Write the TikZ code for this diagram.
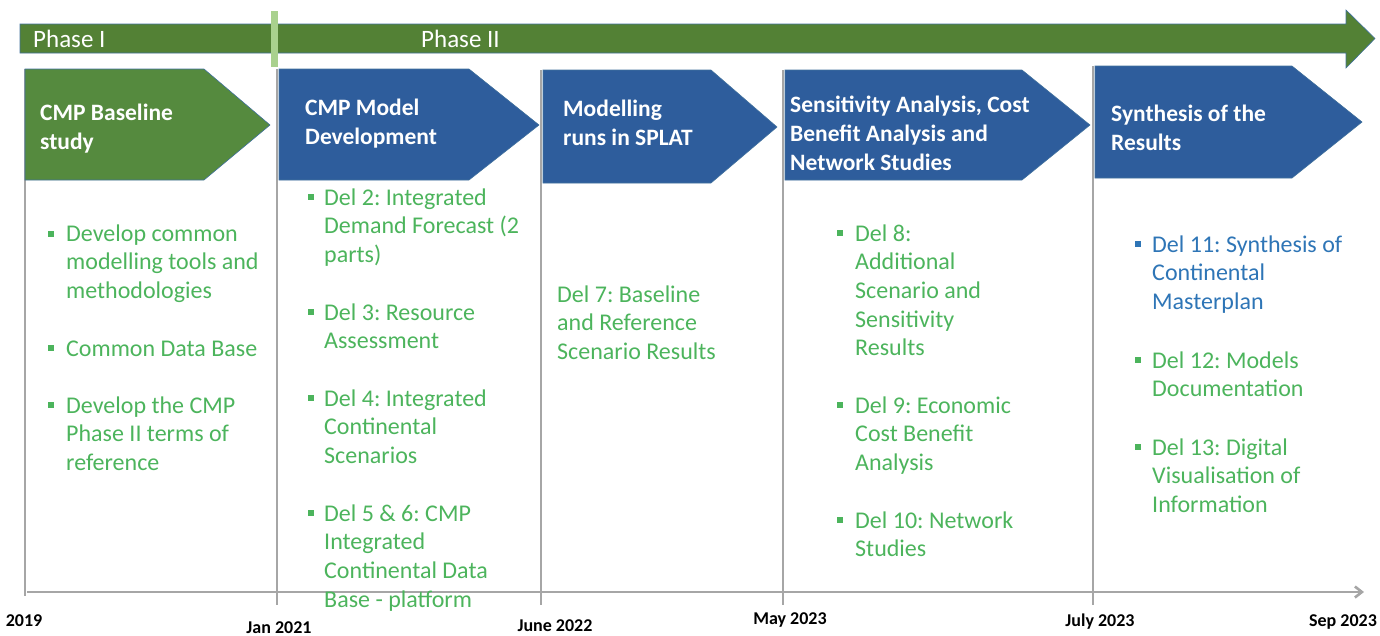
\documentclass[tikz,border=0pt]{standalone}
\usepackage{fontspec}
\setmainfont{Carlito}
\usetikzlibrary{arrows.meta}
\frenchspacing
\definecolor{arrowgreen}{HTML}{538135}
\definecolor{boxgreen}{HTML}{558A3E}
\definecolor{boxblue}{HTML}{2E5D9C}
\definecolor{bordblue}{HTML}{41719C}
\definecolor{textgreen}{HTML}{4CB45C}
\definecolor{textblue}{HTML}{2E75B6}
\definecolor{axisgray}{HTML}{A6A6A6}
\definecolor{divgreen}{HTML}{A9D18E}
\tikzset{
  chev/.style={draw=bordblue, line width=0.6pt},
  ttl/.style={anchor=base west, inner sep=0pt, text=white, align=left,
    font=\fontsize{23.5}{29}\selectfont\bfseries},
  item/.style={anchor=base west, inner sep=0pt, text=textgreen, align=left,
    font=\fontsize{24}{28.7}\selectfont},
  bul/.style={fill=textgreen, minimum size=5.5pt, inner sep=0pt, anchor=center},
  vline/.style={draw=axisgray, line width=2.6pt},
  date/.style={anchor=base, inner sep=0pt, font=\fontsize{18}{20}\selectfont\bfseries},
  phase/.style={anchor=base west, inner sep=0pt, text=white, font=\fontsize{25}{28}\selectfont},
}
\begin{document}
\begin{tikzpicture}[x=1pt,y=-1pt]
\useasboundingbox (0,0) rectangle (1380,635);
% top phase arrow
\draw[chev, fill=arrowgreen] (20,24) -- (1346,24) -- (1346,10) -- (1375,38.5) -- (1346,68) -- (1346,53) -- (20,53) -- cycle;
\fill[divgreen] (271,11) rectangle (278,67);
\node[phase] (ph1) at (33,47) {Phase I};
\node[phase] (ph2) at (421,47) {Phase II};
% vertical guide lines
\foreach \x/\t/\b in {25/69/596, 277/69/605, 541/70/605, 783/70/605, 1093/66/605}
  \draw[vline] (\x,\t) -- (\x,\b);
% axis
\coordinate (axs) at (27,592);
\coordinate (axe) at (1364,592);
\draw[draw=axisgray, line width=2.6pt, -{Straight Barb[length=7pt,width=11pt]}] (axs) -- (axe);
% chevrons
\draw[chev, fill=boxgreen] (25,69) -- (204,69) -- (270,125) -- (204,180) -- (25,180) -- cycle;
\draw[chev, fill=boxblue] (279,69) -- (469,69) -- (539,125) -- (469,180) -- (279,180) -- cycle;
\draw[chev, fill=boxblue] (543,70) -- (711,70) -- (777,127) -- (711,183) -- (543,183) -- cycle;
\draw[chev, fill=boxblue] (785,70) -- (1022,70) -- (1090,125) -- (1022,180) -- (785,180) -- cycle;
\draw[chev, fill=boxblue] (1095,66) -- (1292,66) -- (1362,122) -- (1292,178) -- (1095,178) -- cycle;
% titles (anchor = baseline of last line)
\node[ttl] (t1) at (40,149.5) {CMP Baseline\\study};
\node[ttl] (t2) at (305,144.5) {CMP Model\\Development};
\node[ttl] (t3) at (563,145) {Modelling\\runs in SPLAT};
\node[ttl] (t4) at (790,170) {Sensitivity Analysis, Cost\\Benefit Analysis and\\Network Studies};
\node[ttl] (t5) at (1111,150) {Synthesis of the\\Results};
% column 1
\node[bul] (b11) at (51,234) {};
\node[item] (i11) at (66,298.4) {Develop common\\modelling tools and\\methodologies};
\node[bul] (b12) at (51,348) {};
\node[item] (i12) at (66,356) {Common Data Base};
\node[bul] (b13) at (51,405) {};
\node[item] (i13) at (66,470.4) {Develop the CMP\\Phase II terms of\\reference};
% column 2
\node[bul] (b21) at (311,197) {};
\node[item] (i21) at (324,262.4) {Del 2: Integrated\\Demand Forecast (2\\parts)};
\node[bul] (b22) at (311,312) {};
\node[item] (i22) at (324,348.7) {Del 3: Resource\\Assessment};
\node[bul] (b23) at (311,398) {};
\node[item] (i23) at (324,463.4) {Del 4: Integrated\\Continental\\Scenarios};
\node[bul] (b24) at (311,513) {};
\node[item] (i24) at (324,607.1) {Del 5 \& 6: CMP\\Integrated\\Continental Data\\Base - platform};
% column 3
\node[item] (i31) at (557,359.4) {Del 7: Baseline\\and Reference\\Scenario Results};
% column 4
\node[bul] (b41) at (840,233) {};
\node[item] (i41) at (855,355.8) {Del 8:\\Additional\\Scenario and\\Sensitivity\\Results};
\node[bul] (b42) at (840,405) {};
\node[item] (i42) at (855,470.4) {Del 9: Economic\\Cost Benefit\\Analysis};
\node[bul] (b43) at (840,520) {};
\node[item] (i43) at (855,556.7) {Del 10: Network\\Studies};
% column 5
\node[bul, fill=textblue] (b51) at (1138,244) {};
\node[item, text=textblue] (i51) at (1152,309.4) {Del 11: Synthesis of\\Continental\\Masterplan};
\node[bul] (b52) at (1138,360) {};
\node[item] (i52) at (1152,396.7) {Del 12: Models\\Documentation};
\node[bul] (b53) at (1138,447) {};
\node[item] (i53) at (1152,512.4) {Del 13: Digital\\Visualisation of\\Information};
% dates
\node[date] (d1) at (24,626) {2019};
\node[date] (d2) at (279,633) {Jan 2021};
\node[date] (d3) at (555,631) {June 2022};
\node[date] (d4) at (790,624) {May 2023};
\node[date] (d5) at (1100,626) {July 2023};
\node[date] (d6) at (1343,626) {Sep 2023};
\end{tikzpicture}
\end{document}
